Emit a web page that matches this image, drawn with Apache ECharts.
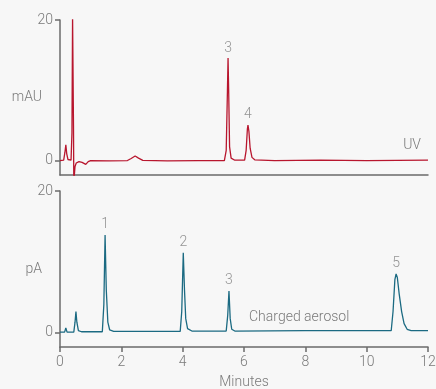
<!DOCTYPE html>
<html>
<head>
<meta charset="utf-8">
<script src="https://cdn.jsdelivr.net/npm/echarts@6/dist/echarts.min.js"></script>
<style>
  html, body { margin: 0; padding: 0; background: #f7f7f7; }
  #main { width: 436px; height: 389px; }
</style>
</head>
<body>
<div id="main"></div>
<script>
// UV trace, [minutes, mAU]
var uvTrace = [
  [0, 0.05], [0.12, 0.1], [0.16, 1.2], [0.19, 2.3], [0.22, 1.0], [0.26, 0.2], [0.36, 0.1],
  [0.39, 4], [0.41, 20.5], [0.43, 20.5], [0.44, 5], [0.45, -3], [0.47, -3], [0.49, -0.8],
  [0.53, -0.3], [0.62, -0.1], [0.72, -0.2], [0.84, -0.5], [0.92, -0.1], [1.0, 0.05],
  [1.6, 0.0], [2.2, 0.05], [2.32, 0.35], [2.45, 0.7], [2.56, 0.4], [2.7, 0.08], [3.5, 0.0],
  [4.5, 0.05], [5.36, 0.05], [5.42, 1.5], [5.46, 10], [5.48, 14.6], [5.5, 10], [5.53, 2],
  [5.58, 0.4], [5.7, 0.1], [6.02, 0.1], [6.07, 1.5], [6.11, 4.5], [6.13, 5.1], [6.16, 4.2],
  [6.2, 1.8], [6.26, 0.5], [6.35, 0.15], [7.0, 0.05], [8.5, 0.1], [10, 0.05], [12, 0.1]
];
// Charged aerosol trace, [minutes, pA]
var cadTrace = [
  [0, 0.1], [0.15, 0.1], [0.19, 0.7], [0.23, 0.1], [0.45, 0.1], [0.49, 1.5], [0.52, 3.0],
  [0.55, 1.5], [0.6, 0.3], [0.7, 0.15], [1.38, 0.15], [1.43, 4], [1.47, 13.8], [1.51, 6],
  [1.56, 1.5], [1.62, 0.4], [1.75, 0.2], [3.92, 0.2], [3.97, 3], [4.02, 11.3], [4.06, 6],
  [4.1, 2], [4.16, 0.6], [4.3, 0.25], [5.42, 0.25], [5.47, 2.5], [5.51, 5.9], [5.55, 2],
  [5.6, 0.5], [5.7, 0.25], [8, 0.3], [10.8, 0.3], [10.86, 3], [10.92, 7.5], [10.96, 8.3],
  [11.0, 7.8], [11.06, 5.5], [11.14, 3], [11.22, 1.3], [11.32, 0.5], [11.45, 0.3], [12, 0.3]
];
// peak labels [minutes, height, number]
var uvPeaks = [[5.48, 14.6, '3'], [6.13, 5.1, '4']];
var cadPeaks = [[1.47, 13.8, '1'], [4.02, 11.3, '2'], [5.51, 5.9, '3'], [10.96, 8.3, '5']];
var xTicks = [0, 2, 4, 6, 8, 10, 12];
var yTicks = [0, 20];

var txt = '#7a7a7a';
var axisCol = '#6b6b6b';
var font = 'Roboto, "Liberation Sans", sans-serif';
var fw = 300;
var fs = 14;
var uvColor = '#b8162e';
var cadColor = '#1b6a82';

var myChart = echarts.init(document.getElementById('main'));

function yAx(gi, name) {
  return {
    type: 'value', gridIndex: gi, min: -2, max: 20,
    name: name, nameLocation: 'middle', nameRotate: 0, nameGap: 18, nameMoveOverlap: false,
    nameTextStyle: { color: txt, fontSize: fs, fontFamily: font, fontWeight: fw },
    splitLine: { show: false },
    axisLine: { show: true, lineStyle: { color: axisCol, width: 1.5 } },
    axisTick: { show: true, length: 5, customValues: yTicks, lineStyle: { color: axisCol, width: 1.5 } },
    axisLabel: { customValues: yTicks, color: txt, fontSize: fs, fontFamily: font, fontWeight: fw, margin: 7 }
  };
}

function peakSeries(xi, data) {
  return {
    type: 'scatter', xAxisIndex: xi, yAxisIndex: xi, symbolSize: 0, silent: true,
    data: data,
    label: {
      show: true, position: 'top', distance: 3, color: txt, fontSize: fs, fontFamily: font, fontWeight: fw,
      formatter: function (p) { return p.value[2]; }
    }
  };
}

var option = {
  backgroundColor: '#f7f7f7',
  animation: false,
  grid: [
    { left: 60, right: 8, top: 20, bottom: 214, outerBoundsMode: 'none' },
    { left: 60, right: 8, top: 191, bottom: 42, outerBoundsMode: 'none' }
  ],
  xAxis: [
    {
      type: 'value', gridIndex: 0, min: 0, max: 12, interval: 2,
      axisLine: { show: true, onZero: false, lineStyle: { color: axisCol, width: 1.5 } },
      axisTick: { show: false }, axisLabel: { show: false }, splitLine: { show: false }
    },
    {
      type: 'value', gridIndex: 1, min: 0, max: 12, interval: 2,
      name: 'Minutes', nameLocation: 'middle', nameGap: 28, nameMoveOverlap: false,
      nameTextStyle: { color: txt, fontSize: fs, fontFamily: font, fontWeight: fw },
      axisLine: { show: true, onZero: false, lineStyle: { color: axisCol, width: 1.5 } },
      axisTick: { show: true, length: 5, lineStyle: { color: axisCol, width: 1.5 } },
      axisLabel: { color: txt, fontSize: fs, fontFamily: font, fontWeight: fw, margin: 8 },
      splitLine: { show: false }
    }
  ],
  yAxis: [yAx(0, 'mAU'), yAx(1, 'pA')],
  series: [
    {
      type: 'line', xAxisIndex: 0, yAxisIndex: 0, data: uvTrace, showSymbol: false,
      lineStyle: { color: uvColor, width: 1.3 }, clip: true
    },
    {
      type: 'line', xAxisIndex: 1, yAxisIndex: 1, data: cadTrace, showSymbol: false,
      lineStyle: { color: cadColor, width: 1.3 }, clip: true
    },
    peakSeries(0, uvPeaks),
    peakSeries(1, cadPeaks)
  ],
  graphic: [
    { type: 'text', right: 15, top: 138, style: { text: 'UV', fill: txt, fontSize: fs, fontFamily: font, fontWeight: fw } },
    { type: 'text', left: 249, top: 310, style: { text: 'Charged aerosol', fill: txt, fontSize: fs, fontFamily: font, fontWeight: fw } }
  ]
};

myChart.setOption(option);
</script>
</body>
</html>
